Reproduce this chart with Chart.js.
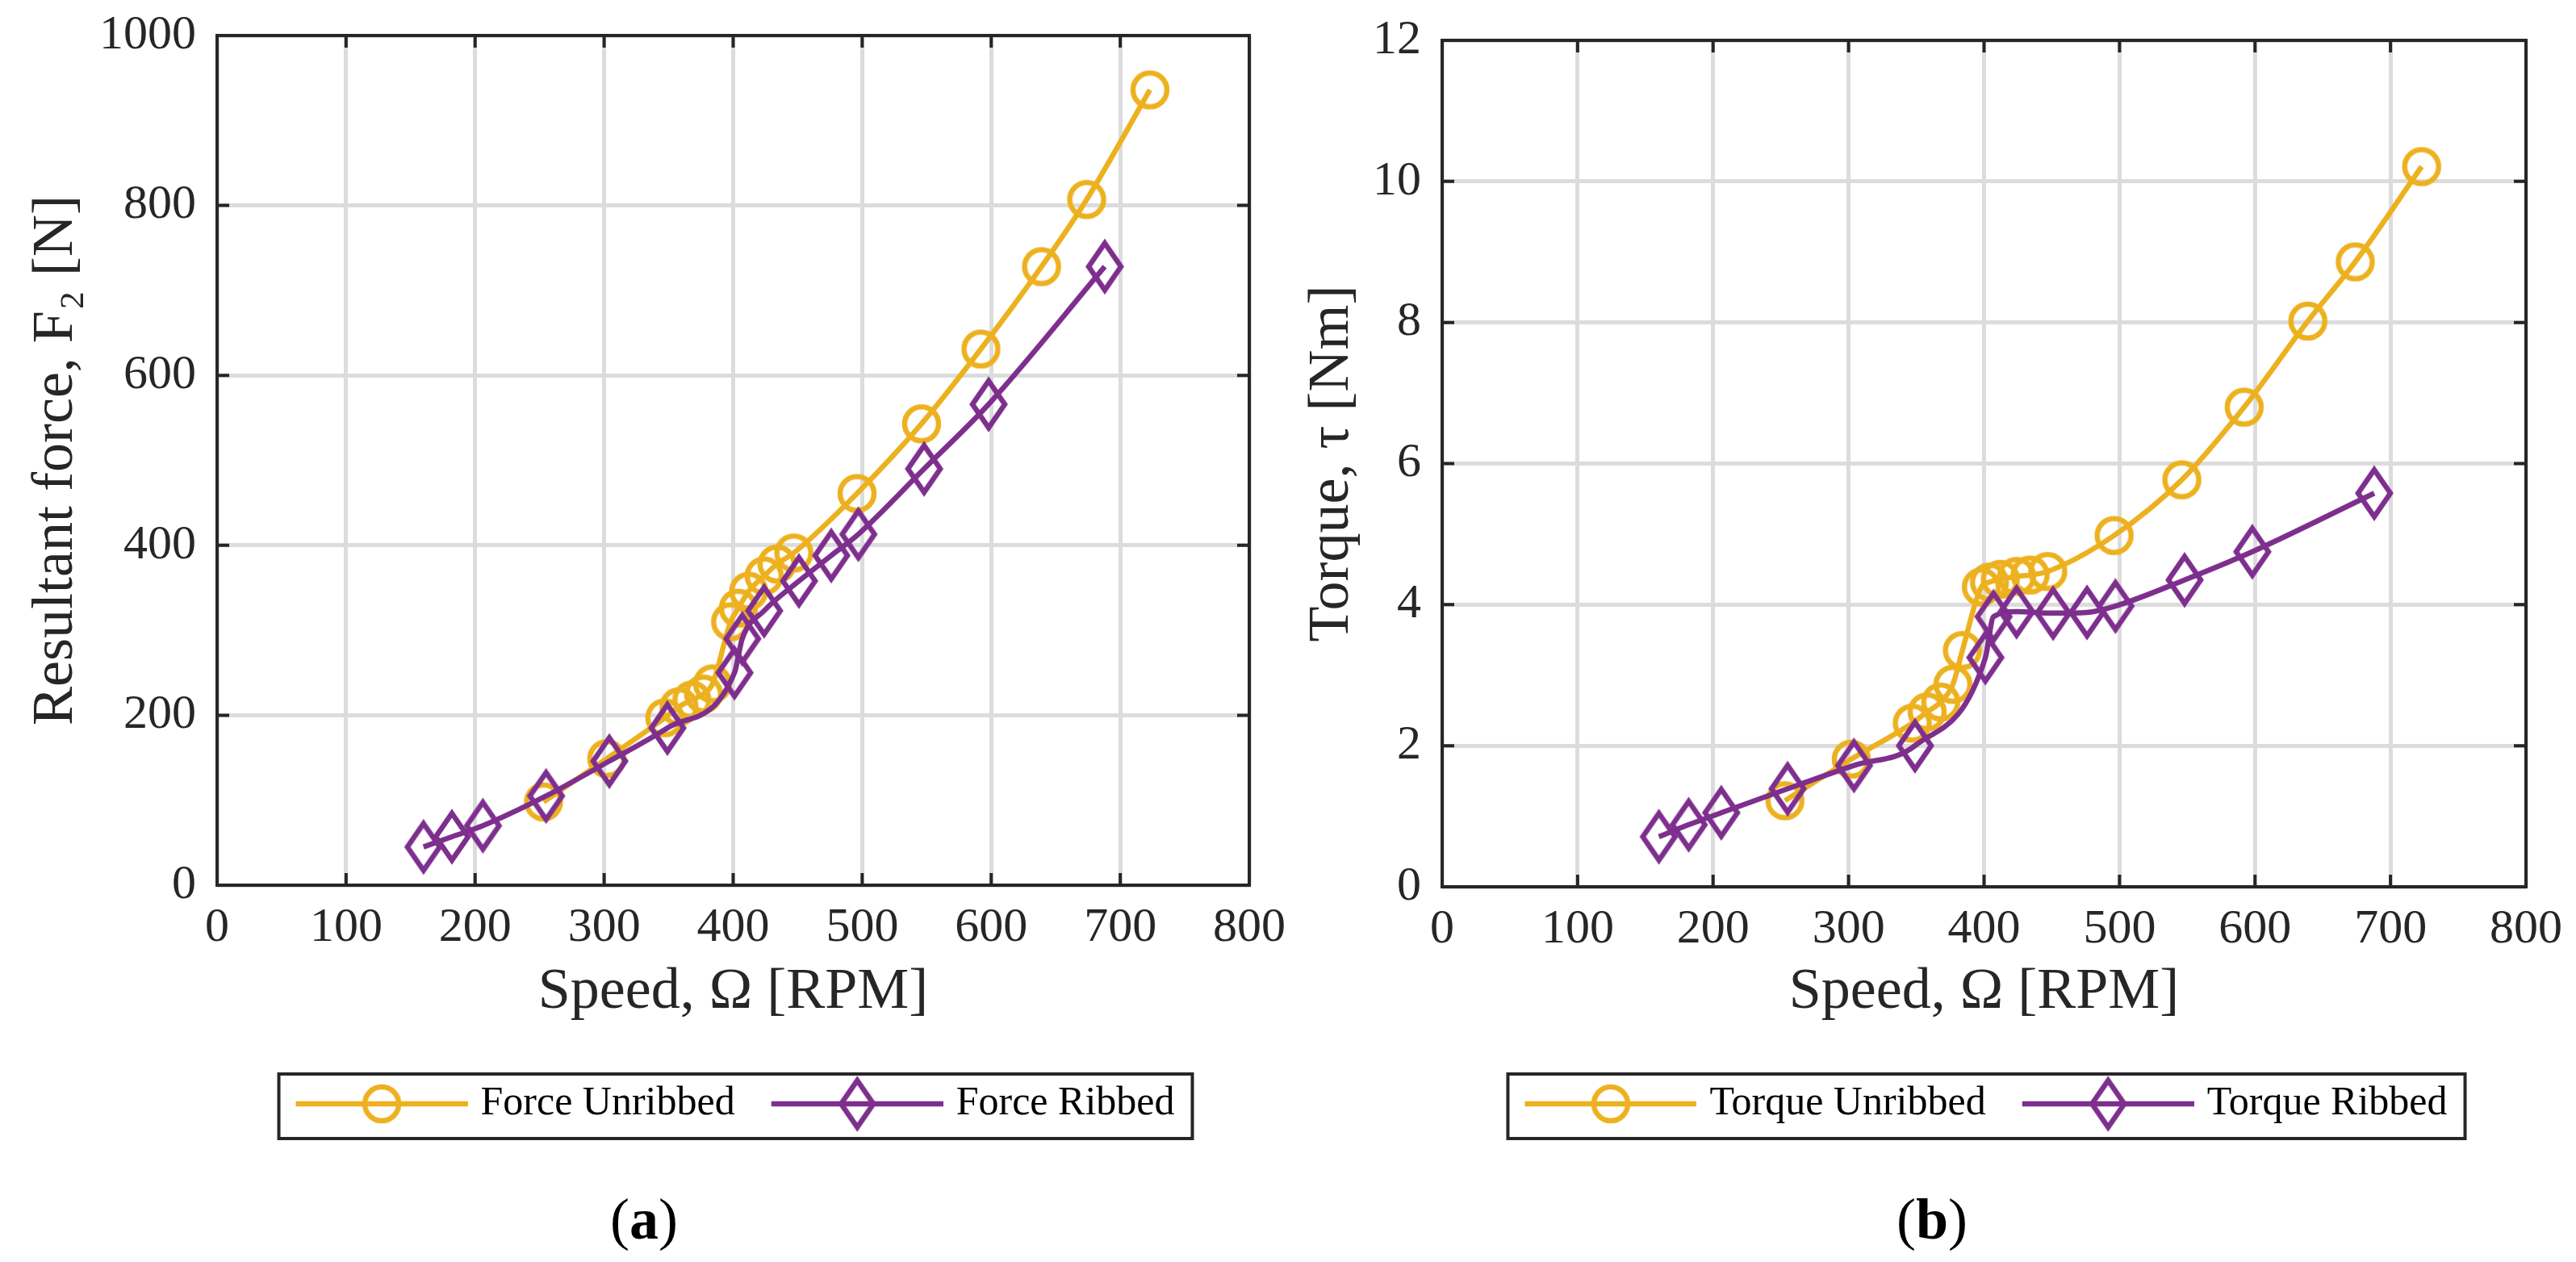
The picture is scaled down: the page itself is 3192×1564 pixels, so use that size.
<!DOCTYPE html>
<html>
<head>
<meta charset="utf-8">
<script src="https://cdn.jsdelivr.net/npm/chart.js@4.4.1/dist/chart.umd.min.js"></script>
<style>
  html, body { margin: 0; padding: 0; background: #fff; }
  #page { position: relative; width: 3192px; height: 1564px; overflow: hidden; background: #fff; }
  .panel { position: absolute; top: 0; width: 1596px; height: 1564px; }
  .cap { position: absolute; top: 1469px; width: 1596px; text-align: center;
         font-family: 'Liberation Serif', serif; font-size: 72px; line-height: 84px; color: #000; }
</style>
</head>
<body>
<div id="page">
  <div class="panel" style="left:0"><canvas id="forceChart" width="1596" height="1564"></canvas></div>
  <div class="panel" style="left:1596px"><canvas id="torqueChart" width="1596" height="1564"></canvas></div>
  <div class="cap" style="left:0">(<b>a</b>)</div>
  <div class="cap" style="left:1596px">(<b>b</b>)</div>
</div>
<script>
// speed [RPM]
const speedUnribbed = [253, 302, 347, 358, 368, 377, 384, 398, 404, 412, 424, 434, 447, 496, 546, 592, 639, 674, 723];
const speedRibbed = [160, 182, 206, 255, 304, 349, 401, 407, 424, 451, 476, 497, 548, 598, 688];

// resultant force F2 [N]
const forceUnribbed = [98, 149, 197, 210, 218, 225, 237, 310, 326, 346, 364, 378, 391, 461, 543, 631, 728, 807, 936];
const forceRibbed = [45, 57, 70, 105, 146, 185, 250, 290, 323, 358, 388, 413, 490, 566, 728];

// torque [Nm]
const torqueUnribbed = [1.22, 1.81, 2.32, 2.48, 2.62, 2.87, 3.35, 4.25, 4.32, 4.36, 4.40, 4.42, 4.47, 4.98, 5.77, 6.80, 8.02, 8.86, 10.21];
const torqueRibbed = [0.71, 0.88, 1.05, 1.39, 1.72, 2.00, 3.25, 3.83, 3.90, 3.88, 3.89, 3.98, 4.35, 4.75, 5.58];

const forceLabels = ['Force Unribbed', 'Force Ribbed'];
const torqueLabels = ['Torque Unribbed', 'Torque Ribbed'];

const AXIS = '#262626';
const GRID = '#dcdcdc';
const YELLOW = '#EDB120';
const PURPLE = '#7E2F8E';
const FONT = "'Liberation Serif', 'DejaVu Serif', serif";
const LEG_PAD = 20;
const LEG_FONT = 50;

// marker shapes (MATLAB style: open circle, tall diamond)
function drawMarker(ctx, kind, cx, cy, color) {
  ctx.strokeStyle = color;
  ctx.lineWidth = 6.5;
  ctx.lineJoin = 'miter';
  ctx.beginPath();
  if (kind === 'circle') {
    ctx.arc(cx, cy, 21, 0, Math.PI * 2);
  } else {
    ctx.moveTo(cx, cy - 29);
    ctx.lineTo(cx + 20, cy);
    ctx.lineTo(cx, cy + 29);
    ctx.lineTo(cx - 20, cy);
    ctx.closePath();
  }
  ctx.stroke();
}

function markerCanvas(kind, color) {
  const c = document.createElement('canvas');
  c.width = 64; c.height = 80;
  drawMarker(c.getContext('2d'), kind, 32, 40, color);
  return c;
}

function legendIcon(kind, color) {
  const c = document.createElement('canvas');
  c.width = 247; c.height = 80;
  const ctx = c.getContext('2d');
  ctx.strokeStyle = color;
  ctx.lineWidth = 6.5;
  ctx.beginPath();
  ctx.moveTo(34, 40);
  ctx.lineTo(247, 40);
  ctx.stroke();
  drawMarker(ctx, kind, 140.5, 40, color);
  return c;
}

const kinds = ['circle', 'diamond'];
const colors = [YELLOW, PURPLE];

// box, inward ticks, legend frame
const axesBox = {
  id: 'axesBox',
  afterLayout(chart) {
    const lg = chart.legend, a = chart.chartArea;
    const d = (a.left + a.right) / 2 - 10 - (lg.left + lg.right) / 2;
    lg.left += d;
    lg.right += d;
  },
  afterDraw(chart) {
    const { ctx, chartArea: a, scales: { x, y } } = chart;
    ctx.save();
    ctx.strokeStyle = AXIS;
    ctx.lineWidth = 4;
    ctx.beginPath();
    x.ticks.forEach(t => {
      const p = x.getPixelForValue(t.value);
      ctx.moveTo(p, a.bottom); ctx.lineTo(p, a.bottom - 15);
      ctx.moveTo(p, a.top); ctx.lineTo(p, a.top + 15);
    });
    y.ticks.forEach(t => {
      const p = y.getPixelForValue(t.value);
      ctx.moveTo(a.left, p); ctx.lineTo(a.left + 15, p);
      ctx.moveTo(a.right, p); ctx.lineTo(a.right - 15, p);
    });
    ctx.stroke();
    ctx.strokeRect(a.left, a.top, a.right - a.left, a.bottom - a.top);

    const lg = chart.legend;
    const L = lg.lineWidths[0];
    const x0 = (lg.left + LEG_PAD + lg.right - L) / 2;
    const x1 = x0 + L - LEG_PAD;
    const cy = lg.top + LEG_PAD + LEG_FONT / 2;
    ctx.strokeRect(x0 + 4, cy - 37, x1 + 22 - (x0 + 4), 80);
    ctx.restore();
  }
};

function makeChart(id, opt) {
  const icons = kinds.map((k, i) => legendIcon(k, colors[i]));
  const sets = [
    { speed: speedUnribbed, vals: opt.unribbed },
    { speed: speedRibbed, vals: opt.ribbed }
  ];
  return new Chart(document.getElementById(id), {
    type: 'line',
    data: {
      datasets: sets.map((s, i) => ({
        label: opt.labels[i],
        data: s.speed.map((v, j) => ({ x: v, y: s.vals[j] })),
        borderColor: colors[i],
        backgroundColor: colors[i],
        borderWidth: 6.5,
        fill: false,
        cubicInterpolationMode: 'monotone',
        pointStyle: markerCanvas(kinds[i], colors[i]),
        pointRadius: 21,
        pointHoverRadius: 21,
        order: 1 - i
      }))
    },
    options: {
      responsive: false,
      devicePixelRatio: 1,
      animation: false,
      events: [],
      layout: { padding: { left: 0, right: opt.padRight, top: opt.padTop, bottom: 161 } },
      plugins: {
        tooltip: { enabled: false },
        legend: {
          position: 'bottom',
          labels: {
            usePointStyle: true,
            pointStyleWidth: 229,
            padding: LEG_PAD,
            color: '#000',
            font: { family: FONT, size: LEG_FONT },
            generateLabels: chart => chart.data.datasets.map((ds, i) => ({
              text: ds.label,
              pointStyle: icons[i],
              fillStyle: ds.borderColor,
              strokeStyle: ds.borderColor,
              lineWidth: 0,
              fontColor: '#000',
              hidden: false,
              datasetIndex: i
            }))
          }
        }
      },
      scales: {
        x: {
          type: 'linear',
          min: 0, max: 800,
          ticks: { stepSize: 100, padding: 17, color: AXIS, maxRotation: 0, autoSkip: false,
                   font: { family: FONT, size: 60 }, callback: v => String(v) },
          grid: { color: GRID, lineWidth: 5, drawTicks: false },
          border: { display: false },
          title: { display: true, text: 'Speed, Ω [RPM]', color: AXIS,
                   font: { family: FONT, size: 72 }, padding: { top: 0, bottom: 50 } },
          afterFit: s => { s.height = opt.xHeight; s.paddingLeft = 0; s.paddingRight = 0; }
        },
        y: {
          min: 0, max: opt.yMax,
          ticks: { stepSize: opt.yStep, padding: 26, color: AXIS,
                   font: { family: FONT, size: 60 }, callback: v => String(v) },
          grid: { color: GRID, lineWidth: 5, drawTicks: false },
          border: { display: false },
          title: { display: true, text: opt.yTitle, color: AXIS,
                   font: { family: FONT, size: 72 }, padding: { top: opt.yTitlePad, bottom: 0 } },
          afterFit: s => { s.width = opt.yWidth; s.paddingTop = 0; s.paddingBottom = 0; }
        }
      }
    },
    plugins: [axesBox]
  });
}

makeChart('forceChart', {
  unribbed: forceUnribbed, ribbed: forceRibbed, labels: forceLabels,
  yTitle: 'Resultant force, F₂ [N]', yMax: 1000, yStep: 200,
  yWidth: 269, yTitlePad: 27, padTop: 44, padRight: 48, xHeight: 226
});

makeChart('torqueChart', {
  unribbed: torqueUnribbed, ribbed: torqueRibbed, labels: torqueLabels,
  yTitle: 'Torque, τ [Nm]', yMax: 12, yStep: 2,
  yWidth: 191, yTitlePad: 12, padTop: 50, padRight: 62, xHeight: 224
});
</script>
</body>
</html>
